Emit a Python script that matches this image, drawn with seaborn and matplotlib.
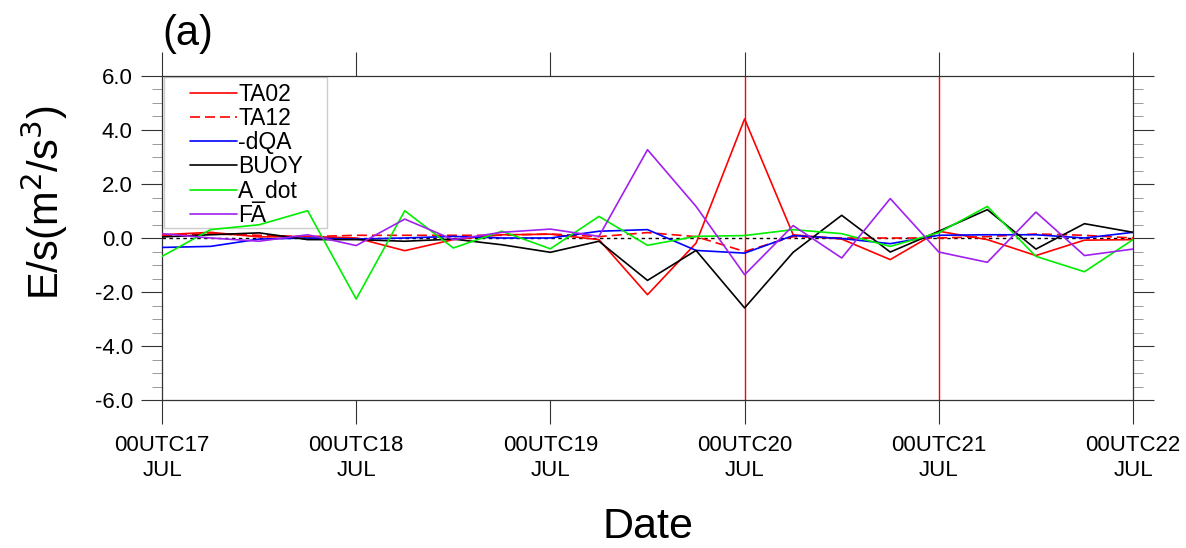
import matplotlib
matplotlib.use("Agg")
import matplotlib.pyplot as plt
import numpy as np
import pandas as pd
import seaborn as sns
from matplotlib.patches import Rectangle
from matplotlib.ticker import FixedLocator, MultipleLocator, FormatStrFormatter

# 6-hourly values, 00UTC17 JUL .. 00UTC22 JUL
hours = list(range(0, 121, 6))

ta02 = [0.12, 0.21, 0.04, 0.06, 0.00, -0.47, -0.06, 0.12, 0.14, -0.06, -2.10,
        -0.19, 4.41, 0.12, -0.04, -0.80, 0.25, -0.06, -0.65, -0.08, -0.06]
ta12 = [0.10, 0.15, 0.10, 0.05, 0.10, 0.10, 0.10, 0.10, 0.15, 0.05, 0.20,
        0.05, -0.50, 0.05, 0.00, 0.00, 0.00, 0.05, 0.15, 0.10, 0.00]
dqa = [-0.35, -0.31, -0.04, 0.00, -0.04, 0.00, 0.06, 0.00, 0.00, 0.25, 0.31,
       -0.46, -0.56, 0.09, -0.02, -0.21, 0.10, 0.12, 0.12, 0.00, 0.21]
buoy = [0.04, 0.12, 0.19, -0.06, -0.06, -0.12, -0.04, -0.25, -0.53, -0.12, -1.57,
        -0.46, -2.59, -0.53, 0.84, -0.52, 0.25, 1.05, -0.41, 0.53, 0.21]
a_dot = [-0.68, 0.31, 0.49, 1.01, -2.26, 1.01, -0.37, 0.25, -0.40, 0.80, -0.27,
         0.06, 0.09, 0.31, 0.16, -0.31, 0.20, 1.17, -0.68, -1.25, -0.06]
fa = [0.16, 0.00, -0.12, 0.12, -0.28, 0.70, -0.06, 0.21, 0.33, 0.06, 3.27,
      1.17, -1.36, 0.46, -0.74, 1.46, -0.52, -0.90, 0.96, -0.65, -0.41]

series_names = ["TA02", "TA12", "-dQA", "BUOY", "A_dot", "FA"]
series_vals = [ta02, ta12, dqa, buoy, a_dot, fa]
series_colors = ["#ff0000", "#ff0000", "#0000ff", "#000000", "#00ee00", "#a020f0"]

tick_hours = [0, 24, 48, 72, 96, 120]
tick_labels = ["00UTC17\nJUL", "00UTC18\nJUL", "00UTC19\nJUL",
               "00UTC20\nJUL", "00UTC21\nJUL", "00UTC22\nJUL"]
marker_hours = [72, 96]

df = pd.DataFrame({"hour": hours * len(series_names),
                   "value": sum(series_vals, []),
                   "series": [n for n in series_names for _ in hours]})

sns.set_style("white")
plt.rcParams["font.family"] = ["Liberation Sans", "DejaVu Sans"]
plt.rcParams["axes.unicode_minus"] = False
plt.rcParams["text.color"] = "black"
plt.rcParams["xtick.labelcolor"] = "black"
plt.rcParams["ytick.labelcolor"] = "black"

fig = plt.figure(figsize=(11.86, 5.48), dpi=100)
ax = fig.add_axes([162 / 1186, 1 - 400 / 548, 971 / 1186, 324 / 548])

ax.axhline(0, color="black", lw=1.0, ls=(0, (2.5, 2.5)), zorder=1)
for h in marker_hours:
  ax.axvline(h, color="#ff0000", lw=1.0, zorder=1)

for name, color in zip(series_names, series_colors):
  sub = df[df["series"] == name]
  ls = (0, (6, 3)) if name == "TA12" else "-"
  sns.lineplot(data=sub, x="hour", y="value", color=color, lw=1.2,
               linestyle=ls, label=name, ax=ax, zorder=3)

ax.set_xlim(0, 120)
ax.set_ylim(-6, 6)
ax.set_xticks(tick_hours)
ax.set_xticklabels(tick_labels, linespacing=1.25)
ax.yaxis.set_major_locator(MultipleLocator(2))
ax.yaxis.set_minor_locator(MultipleLocator(0.5))
ax.yaxis.set_major_formatter(FormatStrFormatter("%.1f"))

ax.tick_params(axis="x", which="major", direction="out", length=17, width=0.8,
               top=True, bottom=True, labelsize=16, pad=8, color="#333333")
ax.tick_params(axis="y", which="major", direction="out", length=15, width=0.8,
               left=True, right=True, labelsize=16, pad=6, color="#333333")
ax.tick_params(axis="y", which="minor", direction="out", length=7, width=0.7,
               left=True, right=True, color="#999999")
for sp in ax.spines.values():
  sp.set_color("#333333")
  sp.set_linewidth(0.9)

ax.set_xlabel("")
ax.set_ylabel("")

# legend box in the upper left corner, lines pass over it
ax.add_patch(Rectangle((0.002, 1 - 152 / 324), 163 / 971, 152 / 324 - 0.002,
                       transform=ax.transAxes, facecolor="white",
                       edgecolor="#cccccc", lw=1.0, zorder=2))
leg = ax.legend(loc="upper left", bbox_to_anchor=(28 / 971, 1 - 7 / 324),
                frameon=False, fontsize=16.5, handlelength=2.05,
                handletextpad=0.05, labelspacing=0.05, borderpad=0,
                borderaxespad=0)
leg.set_zorder(5)

fig.text(162 / 1186, 1 - 34 / 548, "(a)", fontsize=30, ha="left", va="center")
fig.text(44 / 1186, 1 - 203 / 548, "E/s(m$^2$/s$^3$)", fontsize=30,
         rotation=90, ha="center", va="center")
fig.text(648 / 1186, 1 - 527 / 548, "Date", fontsize=31, ha="center", va="center")

fig.savefig("out.png", dpi=100)
